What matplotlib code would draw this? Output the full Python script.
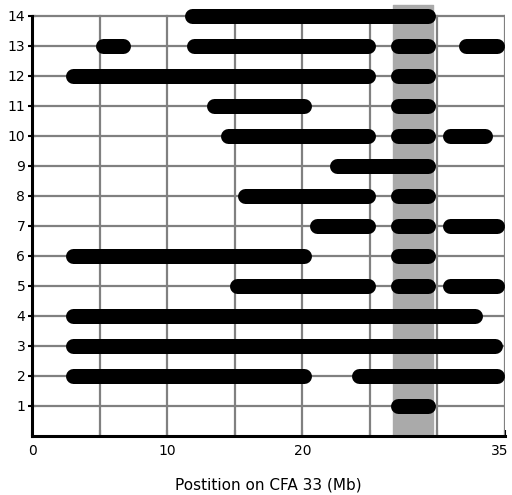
import matplotlib
matplotlib.use("Agg")
import matplotlib.pyplot as plt
from matplotlib.transforms import ScaledTranslation

# haplotype segments per row: (start Mb, end Mb), visible extent
rows = list(range(1, 15))
segments = {
    14: [(11.3, 29.9)],
    13: [(4.7, 7.3), (11.45, 25.45), (26.5, 29.9), (31.6, 34.95)],
    12: [(2.45, 25.45), (26.5, 29.9)],
    11: [(12.9, 20.65), (26.5, 29.9)],
    10: [(13.95, 25.45), (26.5, 29.9), (30.4, 34.1)],
    9:  [(22.0, 29.9)],
    8:  [(15.2, 25.45), (26.5, 29.9)],
    7:  [(20.5, 25.45), (26.5, 29.9), (30.4, 34.95)],
    6:  [(2.45, 20.65), (26.5, 29.9)],
    5:  [(14.6, 25.45), (26.5, 29.9), (30.4, 34.95)],
    4:  [(2.45, 33.35)],
    3:  [(2.45, 34.8)],
    2:  [(2.45, 20.65), (23.65, 34.95)],
    1:  [(26.5, 29.9)],
}
shade = (26.75, 29.7)
xticks = [0, 5, 10, 15, 20, 25, 30, 35]
xlabels = ['0', '', '10', '', '20', '', '', '35']

fig = plt.figure(figsize=(5.12, 4.95), dpi=100)
ax = fig.add_axes([0.063, 0.1192, 0.923, 0.873])
ax.set_xlim(0, 35)
ax.set_ylim(0, 14.4)

grey = '#808080'
ax.fill_betweenx([0, 14.37], shade[0], shade[1], color='#aaaaaa', zorder=1)
for y in rows:
    ax.plot([0, 35], [y, y], color=grey, lw=1.6, zorder=2)
for x in xticks[1:]:
    ax.plot([x, x], [0, 14], color=grey, lw=1.6, zorder=2)

lw_pt = 10.8
px_per_mb = 0.923 * 512 / 35
r = lw_pt / 2 * 100 / 72 / px_per_mb  # cap radius in Mb
for y in rows:
    for a, b in segments[y]:
        ax.plot([a + r, b - r], [y, y], color='black', lw=lw_pt,
                solid_capstyle='round', zorder=3)

for s in ['top', 'right']:
    ax.spines[s].set_visible(False)
ax.spines['left'].set_bounds(0, 14)
ax.spines['left'].set_linewidth(2.2)
ax.spines['bottom'].set_linewidth(2.2)
ax.spines['left'].set_zorder(4)
ax.spines['bottom'].set_zorder(4)

ax.set_yticks(rows)
ax.set_xticks(xticks)
ax.set_xticklabels(xlabels)
ax.tick_params(axis='x', direction='in', length=4, width=1.5, labelsize=10, pad=6)
ax.tick_params(axis='y', direction='inout', length=6, width=1.5, labelsize=10, pad=2)
last = ax.get_xticklabels()[-1]
last.set_transform(last.get_transform() + ScaledTranslation(-5 / 100, 0, fig.dpi_scale_trans))
ax.set_xlabel('Postition on CFA 33 (Mb)', fontsize=11, labelpad=14)

fig.savefig('out.png', dpi=100)
